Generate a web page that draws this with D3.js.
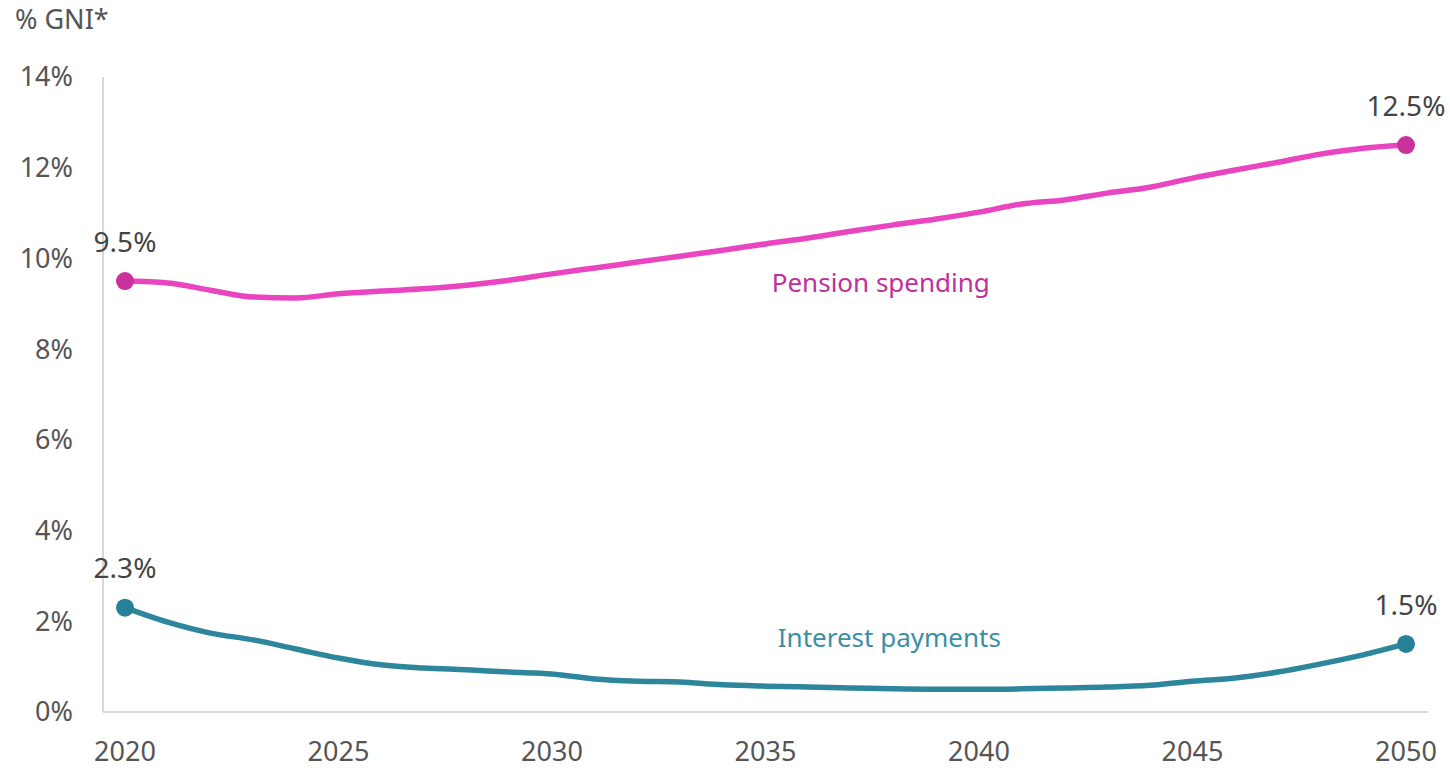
<!DOCTYPE html>
<html>
<head>
<meta charset="utf-8">
<script src="https://cdn.jsdelivr.net/npm/d3@7"></script>
<style>
  html, body { margin: 0; padding: 0; background: #fff; }
  svg { display: block; font-family: "Noto Sans", "Open Sans", sans-serif; }
</style>
</head>
<body>
<svg id="chart" width="1450" height="771"></svg>
<script>
// Projected spending, % of GNI*, 2020–2050
const years = d3.range(2020, 2051);
const pensionSpending = [
  9.5, 9.46, 9.3, 9.15, 9.13, 9.22, 9.28, 9.33, 9.41, 9.52,
  9.66, 9.79, 9.92, 10.05, 10.18, 10.32, 10.45, 10.6, 10.74, 10.87,
  11.02, 11.2, 11.29, 11.44, 11.57, 11.77, 11.95, 12.12, 12.3, 12.43,
  12.5
];
const interestPayments = [
  2.3, 1.98, 1.74, 1.59, 1.39, 1.19, 1.04, 0.97, 0.93, 0.88,
  0.84, 0.73, 0.68, 0.66, 0.6, 0.57, 0.55, 0.53, 0.51, 0.5,
  0.5, 0.51, 0.53, 0.55, 0.59, 0.68, 0.75, 0.88, 1.06, 1.26,
  1.5
];
const yTicks = [0, 2, 4, 6, 8, 10, 12, 14];
const xTicks = [2020, 2025, 2030, 2035, 2040, 2045, 2050];

const seriesList = [
  { name: "Pension spending", values: pensionSpending, line: "#ea45c1", dot: "#c9329c", text: "#c0309a", labelYear: 2037.7, labelValue: 9.46 },
  { name: "Interest payments", values: interestPayments, line: "#2e869c", dot: "#27809a", text: "#3a8fa5", labelYear: 2037.9, labelValue: 1.63 }
];

const svg = d3.select("#chart");
const x = d3.scaleLinear().domain([2020, 2050]).range([125, 1406]);
const y = d3.scaleLinear().domain([0, 14]).range([712, 77]);
const textGray = "#555555";
const fs = 27;

// Axis lines
svg.append("line").attr("x1", 103).attr("x2", 103).attr("y1", 77).attr("y2", y(0))
  .attr("stroke", "#d9d9d9").attr("stroke-width", 2);
svg.append("line").attr("x1", 103).attr("x2", 1428).attr("y1", y(0)).attr("y2", y(0))
  .attr("stroke", "#d9d9d9").attr("stroke-width", 2);

// Y tick labels
svg.selectAll(".ytick").data(yTicks).join("text")
  .attr("x", 73).attr("y", d => y(d)).attr("dy", "0.35em")
  .attr("text-anchor", "end").attr("fill", textGray).attr("font-size", fs)
  .text(d => d + "%");

// X tick labels
svg.selectAll(".xtick").data(xTicks).join("text")
  .attr("x", d => x(d)).attr("y", 752).attr("dy", "0.35em")
  .attr("text-anchor", "middle").attr("fill", textGray).attr("font-size", fs)
  .text(d => d);

// Axis title
svg.append("text").attr("x", 15).attr("y", 20).attr("dy", "0.35em")
  .attr("fill", textGray).attr("font-size", fs).text("% GNI*");

const line = d3.line().x((d, i) => x(years[i])).y(d => y(d)).curve(d3.curveMonotoneX);

seriesList.forEach(s => {
  svg.append("path").datum(s.values)
    .attr("d", line).attr("fill", "none")
    .attr("stroke", s.line).attr("stroke-width", 5.5)
    .attr("stroke-linejoin", "round").attr("stroke-linecap", "round");

  const ends = [0, s.values.length - 1];
  svg.selectAll(null).data(ends).join("circle")
    .attr("cx", i => x(years[i])).attr("cy", i => y(s.values[i]))
    .attr("r", 9).attr("fill", s.dot);

  svg.selectAll(null).data(ends).join("text")
    .attr("x", i => x(years[i])).attr("y", i => y(s.values[i]) - 39).attr("dy", "0.35em")
    .attr("text-anchor", "middle").attr("fill", "#444").attr("font-size", 28)
    .text(i => s.values[i].toFixed(1) + "%");

  svg.append("text")
    .attr("x", x(s.labelYear)).attr("y", y(s.labelValue)).attr("dy", "0.35em")
    .attr("text-anchor", "middle").attr("fill", s.text).attr("font-size", 26)
    .text(s.name);
});
</script>
</body>
</html>
